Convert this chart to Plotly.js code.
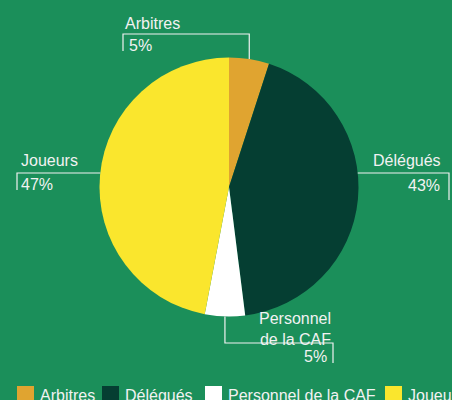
<!DOCTYPE html>
<html>
<head>
<meta charset="utf-8">
<script src="https://cdn.plot.ly/plotly-3.0.1.min.js"></script>
<style>
html,body{margin:0;padding:0;background:#1b8f5a;overflow:hidden;}
#chart{width:452px;height:400px;}
</style>
</head>
<body>
<div id="chart"></div>
<script>
// ---- data ----
const categories = ["Arbitres", "Délégués", "Personnel de la CAF", "Joueurs"];
const labelTexts = ["Arbitres", "Délégués", "Personnel<br>de la CAF", "Joueurs"];
const values = [5, 43, 5, 47];
const colors = ["#e0a430", "#053e32", "#ffffff", "#fae62d"];

// ---- layout constants (pixels) ----
const W = 452, H = 400;
const CX = 229, CY = 187, R = 129.5;
const BG = "#1b8f5a";
const INK = "#f2f2f2";
const px = x => x / W;
const py = y => 1 - y / H;

const total = values.reduce((a, b) => a + b, 0);
let cum = 0;
const mids = values.map(v => { const m = (cum + v / 2) / total * 2 * Math.PI; cum += v; return m; });
const pctText = values.map(v => Math.round(v / total * 100) + "%");

// label geometry per slice: kind 'top'/'bottom' uses mid-angle x; 'left'/'right' uses a horizontal line at lineY
const geo = [
  {kind: "top", elbowY: 34, endX: 123, endY: 51, name: {x: 123, y: 23, a: "left"}, pct: {x: 127, y: 45.5, a: "left"}},
  {kind: "right", lineY: 173, endX: 449, endY: 200, name: {x: 443, y: 160.5, a: "right"}, pct: {x: 442, y: 185, a: "right"}},
  {kind: "bottom", elbowY: 343, endX: 333, endY: 363, name: {x: 333, y: 329, a: "right"}, pct: {x: 329, y: 356, a: "right"}},
  {kind: "left", lineY: 173, endX: 17, endY: 190, name: {x: 19, y: 160.5, a: "left"}, pct: {x: 19, y: 184.5, a: "left"}}
];

const shapes = [];
const annotations = [];
const lineStyle = {color: INK, width: 1.2};

geo.forEach((g, i) => {
  let path;
  if (g.kind === "top" || g.kind === "bottom") {
    const ax = CX + R * Math.sin(mids[i]);
    const ay = CY - R * Math.cos(mids[i]);
    path = `M ${px(ax)} ${py(ay)} L ${px(ax)} ${py(g.elbowY)} L ${px(g.endX)} ${py(g.elbowY)} L ${px(g.endX)} ${py(g.endY)}`;
  } else {
    const dy = g.lineY - CY;
    const dx = Math.sqrt(R * R - dy * dy);
    const ax = g.kind === "right" ? CX + dx : CX - dx;
    path = `M ${px(ax)} ${py(g.lineY)} L ${px(g.endX)} ${py(g.lineY)} L ${px(g.endX)} ${py(g.endY)}`;
  }
  shapes.push({type: "path", xref: "paper", yref: "paper", path: path, line: lineStyle});
  annotations.push({
    xref: "paper", yref: "paper", x: px(g.name.x), y: py(g.name.y),
    xanchor: g.name.a, yanchor: "middle", align: g.name.a, showarrow: false,
    text: labelTexts[i], font: {family: "Liberation Sans, Arial, sans-serif", size: 16, color: INK}
  });
  annotations.push({
    xref: "paper", yref: "paper", x: px(g.pct.x), y: py(g.pct.y),
    xanchor: g.pct.a, yanchor: "middle", showarrow: false,
    text: pctText[i], font: {family: "Liberation Sans, Arial, sans-serif", size: 16, color: INK}
  });
});

// manual legend along the bottom edge
const legendX = [17, 102, 205, 385];
const SW = 17, LEG_TOP = 386;
categories.forEach((c, i) => {
  shapes.push({type: "rect", xref: "paper", yref: "paper",
    x0: px(legendX[i]), x1: px(legendX[i] + SW), y0: py(LEG_TOP + SW), y1: py(LEG_TOP),
    fillcolor: colors[i], line: {width: 0}});
  annotations.push({
    xref: "paper", yref: "paper", x: px(legendX[i] + SW + 4), y: py(LEG_TOP + 9),
    xanchor: "left", yanchor: "middle", showarrow: false, text: c,
    font: {family: "Liberation Sans, Arial, sans-serif", size: 16, color: INK}
  });
});

const trace = {
  type: "pie",
  labels: categories,
  values: values,
  sort: false,
  direction: "clockwise",
  rotation: 0,
  marker: {colors: colors, line: {width: 0}},
  textinfo: "none",
  hoverinfo: "label+percent",
  showlegend: false,
  domain: {x: [px(CX - R), px(CX + R)], y: [py(CY + R), py(CY - R)]}
};

const layout = {
  width: W, height: H,
  margin: {l: 0, r: 0, t: 0, b: 0},
  paper_bgcolor: BG, plot_bgcolor: BG,
  showlegend: false,
  shapes: shapes,
  annotations: annotations
};

Plotly.newPlot("chart", [trace], layout, {displayModeBar: false, staticPlot: true});
</script>
</body>
</html>
